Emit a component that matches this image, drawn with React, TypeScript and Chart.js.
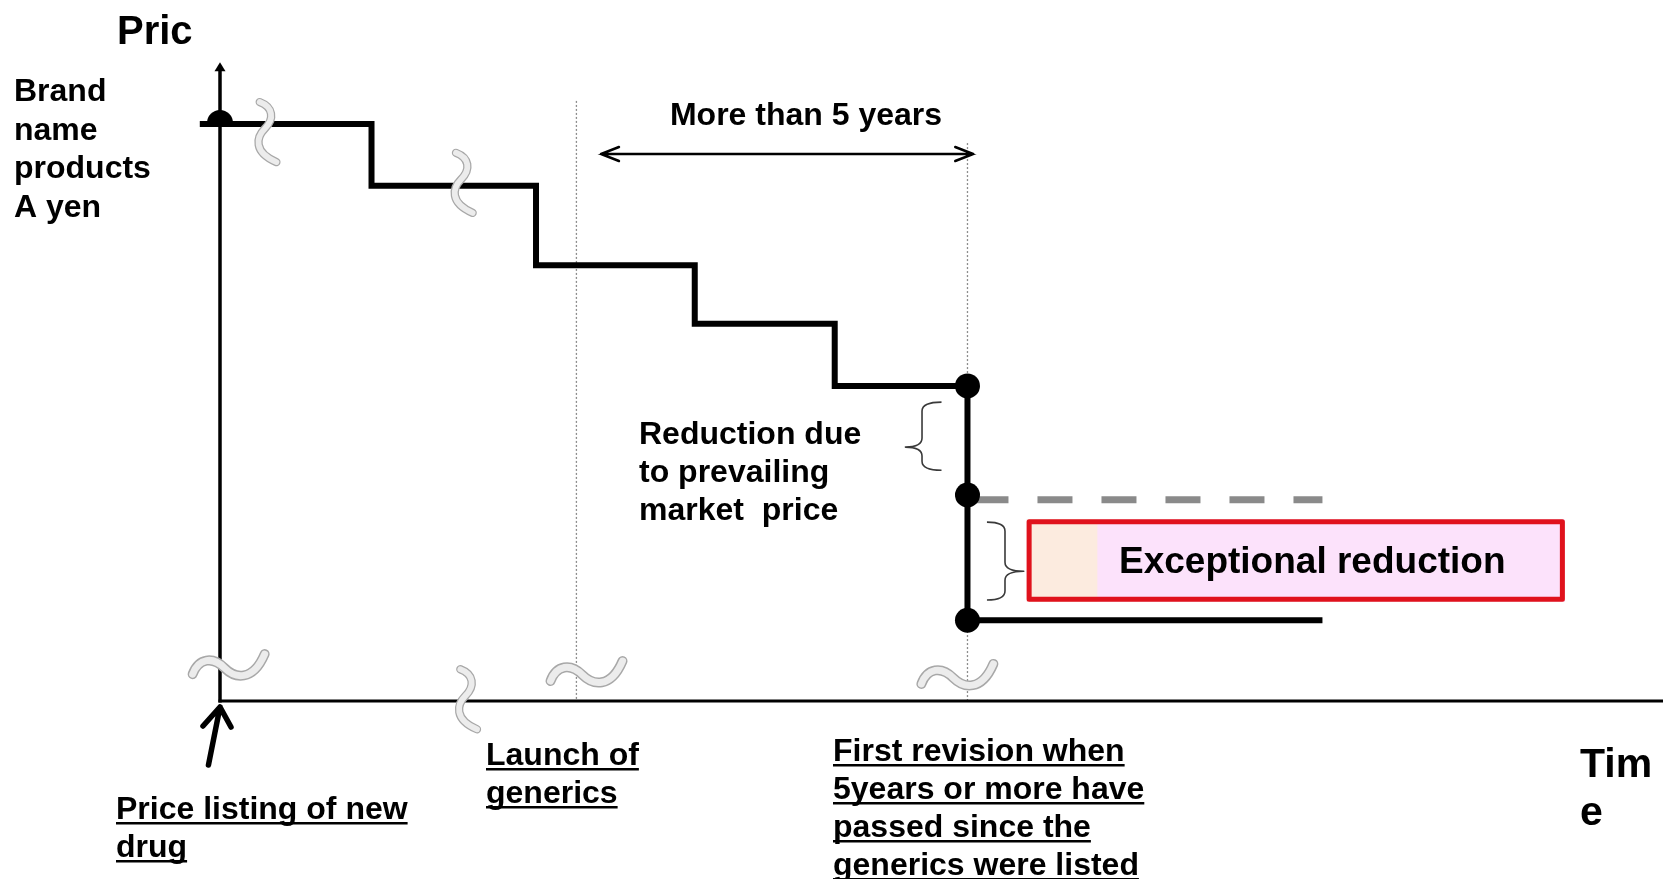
import React, { useEffect, useRef } from "react";
import { Chart, registerables } from "chart.js";

Chart.register(...registerables);

// ---- data (time in % of axis length, price in % of brand price A) ----
const stepTime = [-1.4, 10.5, 21.9, 32.9, 42.6, 51.8, 76.4];
const stepPrice = [100, 89.3, 75.5, 65.4, 54.6, 14.0, 14.0];
const revisionTime = [51.8, 51.8, 51.8];
const revisionPrice = [54.6, 35.7, 14.0];
const listingTime = [0];
const listingPrice = [100];
const marketTime = [51.8, 76.4];
const marketPrice = [34.9, 34.9];
const guideTime = [24.7, 51.8];
const guideTop = [104.0, 96.7];
const spanTime = [26.4, 52.2];
const spanPrice = [94.8, 94.8];
const axisTop = [110.7];
const waveTime = [3.1, 16.7, 0.6, 17.0, 25.4, 51.1];
const wavePrice = [98.6, 89.8, 5.7, 0.3, 4.5, 4.0];
const waveVertical = [true, true, false, true, false, false];
// brace: [end, mid, tip] times ; [top, tip, bottom] prices
const braceTime = [
  [50.0, 48.65, 47.5],
  [53.15, 54.4, 55.7],
];
const bracePrice = [
  [51.8, 44.0, 40.0],
  [31.0, 22.5, 17.5],
];
const boxTime = [55.9, 60.8, 93.2];
const boxPrice = [31.5, 17.2];
const arrowTime = [-0.8, 0];
const arrowPrice = [-11.1, -0.7];

const FONT = '"Liberation Sans", Arial, sans-serif';

type Label = { lines: string[]; x: number; y: number; size: number; lh: number; align?: CanvasTextAlign; underline?: boolean };
const labels: Label[] = [
  { lines: ["Pric"], x: 117, y: 44, size: 40, lh: 0 },
  { lines: ["Brand", "name", "products", "A yen"], x: 14, y: 101, size: 32, lh: 38.7 },
  { lines: ["More than 5 years"], x: 806, y: 125, size: 32, lh: 0, align: "center" },
  { lines: ["Reduction due", "to prevailing", "market  price"], x: 639, y: 444, size: 32, lh: 38 },
  { lines: ["Exceptional reduction"], x: 1119, y: 573, size: 37, lh: 0 },
  { lines: ["Price listing of new", "drug"], x: 116, y: 819, size: 32, lh: 38, underline: true },
  { lines: ["Launch of", "generics"], x: 486, y: 765, size: 32, lh: 38, underline: true },
  {
    lines: ["First revision when", "5years or more have", "passed since the", "generics were listed"],
    x: 833, y: 761, size: 32, lh: 38, underline: true,
  },
  { lines: ["Tim", "e"], x: 1580, y: 777, size: 41, lh: 48 },
];

function drawWave(ctx: CanvasRenderingContext2D, cx: number, cy: number, vertical: boolean) {
  const len = vertical ? 60 : 72;
  const s = len / 72;
  ctx.save();
  ctx.translate(cx, cy);
  if (vertical) ctx.rotate(Math.PI / 2);
  ctx.scale(s, s);
  const path = () => {
    ctx.beginPath();
    ctx.moveTo(-36, 6);
    ctx.bezierCurveTo(-30, -10, -16, -12, -4, 0);
    ctx.bezierCurveTo(6, 10, 24, 14, 36, -14);
  };
  ctx.lineCap = "round";
  path();
  ctx.strokeStyle = "#a8a8a8";
  ctx.lineWidth = 10;
  ctx.stroke();
  path();
  ctx.strokeStyle = "#ececec";
  ctx.lineWidth = 7;
  ctx.stroke();
  ctx.restore();
}

function drawBrace(ctx: CanvasRenderingContext2D, xe: number, xm: number, xt: number, yt: number, yc: number, yb: number) {
  const r = 9;
  ctx.beginPath();
  ctx.moveTo(xe, yt);
  ctx.quadraticCurveTo(xm, yt, xm, yt + r);
  ctx.lineTo(xm, yc - r);
  ctx.quadraticCurveTo(xm, yc, xt, yc);
  ctx.quadraticCurveTo(xm, yc, xm, yc + r);
  ctx.lineTo(xm, yb - r);
  ctx.quadraticCurveTo(xm, yb, xe, yb);
  ctx.stroke();
}

const decor = {
  id: "decor",
  beforeDatasetsDraw(chart: any) {
    const { ctx, scales } = chart;
    const X = (v: number) => scales.x.getPixelForValue(v);
    const Y = (v: number) => scales.y.getPixelForValue(v);
    ctx.save();
    // dotted guides
    ctx.strokeStyle = "#8c8c8c";
    ctx.lineWidth = 1.3;
    ctx.setLineDash([2, 2]);
    guideTime.forEach((t, i) => {
      ctx.beginPath();
      ctx.moveTo(X(t), Y(guideTop[i]));
      ctx.lineTo(X(t), Y(0));
      ctx.stroke();
    });
    ctx.setLineDash([]);
    // axes
    ctx.strokeStyle = "#000";
    ctx.fillStyle = "#000";
    ctx.lineWidth = 3.5;
    ctx.beginPath();
    ctx.moveTo(X(0), Y(0) + 1.5);
    ctx.lineTo(X(0), Y(axisTop[0]) + 5);
    ctx.stroke();
    ctx.beginPath();
    ctx.moveTo(X(0), Y(axisTop[0]));
    ctx.lineTo(X(0) - 5.5, Y(axisTop[0]) + 9);
    ctx.lineTo(X(0) + 5.5, Y(axisTop[0]) + 9);
    ctx.closePath();
    ctx.fill();
    ctx.lineWidth = 3;
    ctx.beginPath();
    ctx.moveTo(X(0) - 1.5, Y(0));
    ctx.lineTo(chart.width, Y(0));
    ctx.stroke();
    ctx.restore();
  },
  afterDatasetsDraw(chart: any) {
    const { ctx, scales } = chart;
    const X = (v: number) => scales.x.getPixelForValue(v);
    const Y = (v: number) => scales.y.getPixelForValue(v);
    ctx.save();
    // listing semicircle
    ctx.fillStyle = "#000";
    listingTime.forEach((t, i) => {
      ctx.beginPath();
      ctx.arc(X(t), Y(listingPrice[i]) - 1, 13, Math.PI, 0);
      ctx.closePath();
      ctx.fill();
    });
    // double arrow
    const x1 = X(spanTime[0]);
    const x2 = X(spanTime[1]);
    const ya = Y(spanPrice[0]);
    ctx.strokeStyle = "#000";
    ctx.lineWidth = 2.5;
    ctx.lineCap = "round";
    ctx.beginPath();
    ctx.moveTo(x1, ya);
    ctx.lineTo(x2, ya);
    ctx.moveTo(x1 + 18, ya - 7);
    ctx.lineTo(x1, ya);
    ctx.lineTo(x1 + 18, ya + 7);
    ctx.moveTo(x2 - 18, ya - 7);
    ctx.lineTo(x2, ya);
    ctx.lineTo(x2 - 18, ya + 7);
    ctx.stroke();
    // origin arrow
    const tx = X(arrowTime[1]);
    const ty = Y(arrowPrice[1]);
    const bx = X(arrowTime[0]);
    const by = Y(arrowPrice[0]);
    ctx.lineWidth = 5.5;
    ctx.lineJoin = "round";
    ctx.beginPath();
    ctx.moveTo(bx, by);
    ctx.lineTo(tx, ty + 2);
    ctx.moveTo(tx - 17, ty + 21);
    ctx.lineTo(tx, ty + 2);
    ctx.lineTo(tx + 11, ty + 22);
    ctx.stroke();
    // waves
    waveTime.forEach((t, i) => drawWave(ctx, X(t), Y(wavePrice[i]), waveVertical[i]));
    // braces
    ctx.strokeStyle = "#3a3a3a";
    ctx.lineWidth = 1.6;
    ctx.lineCap = "butt";
    braceTime.forEach((bt, i) => {
      const bp = bracePrice[i];
      drawBrace(ctx, X(bt[0]), X(bt[1]), X(bt[2]), Y(bp[0]), Y(bp[1]), Y(bp[2]));
    });
    // box
    const bl = X(boxTime[0]);
    const bm = X(boxTime[1]);
    const br = X(boxTime[2]);
    const bt = Y(boxPrice[0]);
    const bb = Y(boxPrice[1]);
    ctx.fillStyle = "#fce2fb";
    ctx.fillRect(bl, bt, br - bl, bb - bt);
    ctx.fillStyle = "#fcebdf";
    ctx.fillRect(bl, bt, bm - bl, bb - bt);
    ctx.strokeStyle = "#e0121c";
    ctx.lineWidth = 5;
    ctx.strokeRect(bl + 2.5, bt + 2.5, br - bl - 5, bb - bt - 5);
    // labels
    ctx.fillStyle = "#000";
    ctx.textBaseline = "alphabetic";
    labels.forEach((lb) => {
      ctx.font = `bold ${lb.size}px ${FONT}`;
      ctx.textAlign = lb.align || "left";
      lb.lines.forEach((line, k) => {
        const yy = lb.y + k * lb.lh;
        ctx.fillText(line, lb.x, yy);
        if (lb.underline) {
          const w = ctx.measureText(line).width;
          ctx.fillRect(lb.x, yy + 3, w, 2.5);
        }
      });
    });
    ctx.restore();
  },
};

export default function App() {
  const ref = useRef<HTMLCanvasElement>(null);
  useEffect(() => {
    if (!ref.current) return;
    const pts = (xs: number[], ys: number[]) => xs.map((x, i) => ({ x, y: ys[i] }));
    const chart = new Chart(ref.current, {
      type: "scatter",
      data: {
        datasets: [
          {
            label: "revision",
            data: pts(revisionTime, revisionPrice),
            showLine: false,
            pointRadius: 12.5,
            pointBackgroundColor: "#000",
            pointBorderWidth: 0,
            clip: false,
          } as any,
          {
            label: "price",
            data: pts(stepTime, stepPrice),
            showLine: true,
            stepped: "before",
            borderColor: "#000",
            borderWidth: 6,
            borderJoinStyle: "miter",
            borderCapStyle: "butt",
            pointRadius: 0,
            clip: false,
          } as any,
          {
            label: "market",
            data: pts(marketTime, marketPrice),
            showLine: true,
            borderColor: "#8a8a8a",
            borderWidth: 7,
            borderDash: [35, 29],
            borderDashOffset: -6,
            borderCapStyle: "butt",
            pointRadius: 0,
            clip: false,
          } as any,
        ],
      },
      options: {
        animation: false,
        responsive: true,
        maintainAspectRatio: false,
        events: [],
        layout: { autoPadding: false, padding: { left: 220, right: 0, top: 37.45, bottom: 178 } },
        plugins: { legend: { display: false }, tooltip: { enabled: false }, title: { display: false } },
        scales: {
          x: { type: "linear", min: 0, max: 100, display: false },
          y: { type: "linear", min: 0, max: 115, display: false },
        },
      },
      plugins: [decor],
    });
    return () => chart.destroy();
  }, []);
  return (
    <div style={{ position: "fixed", left: 0, top: 0, width: 1663, height: 879, background: "#fff" }}>
      <canvas ref={ref} />
    </div>
  );
}
